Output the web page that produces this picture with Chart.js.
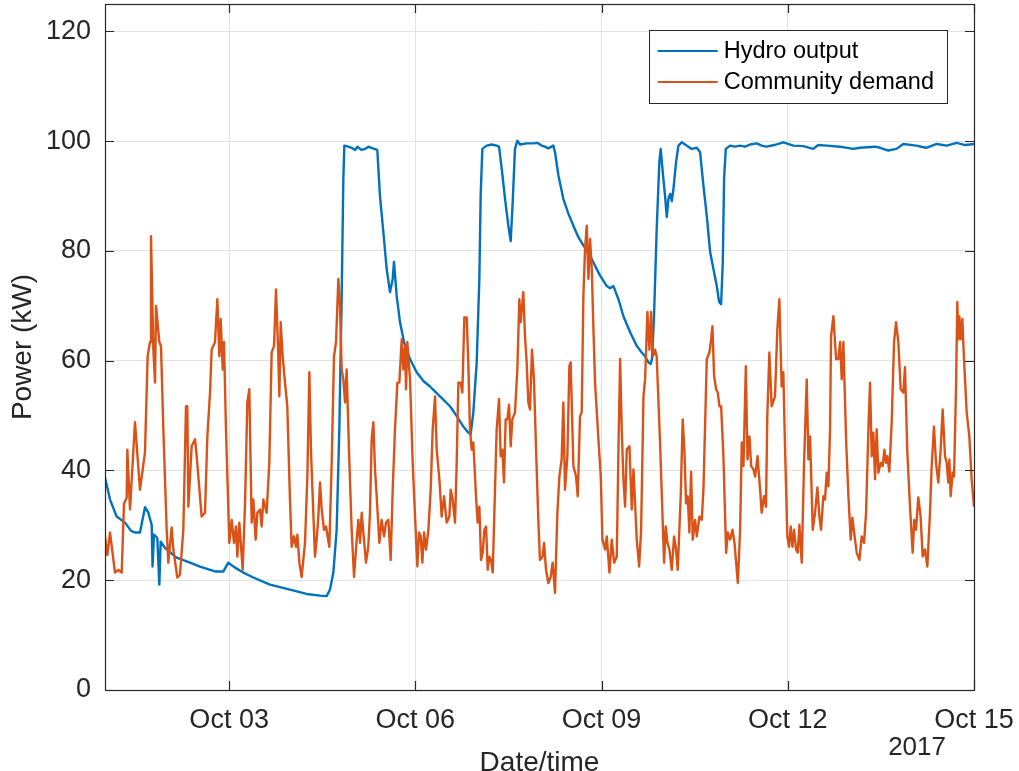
<!DOCTYPE html>
<html>
<head>
<meta charset="utf-8">
<script src="https://cdn.jsdelivr.net/npm/chart.js@4.4.1/dist/chart.umd.min.js"></script>
<style>
  html, body { margin: 0; padding: 0; background: #fff; }
</style>
</head>
<body>
<canvas id="chart" width="1019" height="771"></canvas>
<script>
// days since Oct 01 00:00, 2017
const xTickDays = [2, 5, 8, 11, 14];
const xTickLabels = ["Oct 03", "Oct 06", "Oct 09", "Oct 12", "Oct 15"];
const yTicks = [0, 20, 40, 60, 80, 100, 120];

const hydroDays = [0.000, 0.081, 0.188, 0.322, 0.420, 0.483, 0.564, 0.644, 0.698, 0.752, 0.766, 0.789, 0.843, 0.875, 0.897, 0.967,
  1.154, 1.369, 1.530, 1.772, 1.907, 1.987, 2.094, 2.228, 2.390, 2.658, 2.980, 3.249, 3.464, 3.571, 3.625, 3.679, 3.732, 3.775,
  3.813, 3.840, 3.856, 3.920, 3.974, 4.028, 4.066, 4.134, 4.188, 4.242, 4.312, 4.387, 4.430, 4.484, 4.538, 4.592, 4.635, 4.656,
  4.699, 4.753, 4.817, 4.914, 5.021, 5.129, 5.236, 5.397, 5.558, 5.666, 5.773, 5.853, 5.891, 5.934, 5.988, 6.031, 6.052, 6.079,
  6.149, 6.230, 6.310, 6.348, 6.391, 6.445, 6.498, 6.536, 6.568, 6.605, 6.643, 6.686, 6.793, 6.901, 6.965, 7.034, 7.089, 7.142,
  7.223, 7.250, 7.304, 7.384, 7.465, 7.546, 7.626, 7.707, 7.815, 7.895, 7.976, 8.084, 8.137, 8.191, 8.272, 8.352, 8.460, 8.567,
  8.647, 8.701, 8.755, 8.790, 8.812, 8.845, 8.888, 8.931, 8.953, 8.985, 9.023, 9.050, 9.077, 9.104, 9.131, 9.158, 9.200, 9.238,
  9.292, 9.345, 9.399, 9.453, 9.534, 9.587, 9.641, 9.695, 9.749, 9.802, 9.856, 9.894, 9.926, 9.953, 9.974, 10.001, 10.071, 10.151,
  10.232, 10.312, 10.393, 10.500, 10.581, 10.660, 10.780, 10.930, 11.090, 11.250, 11.410, 11.490, 11.630, 11.840, 12.050, 12.160,
  12.400, 12.490, 12.620, 12.750, 12.860, 13.070, 13.230, 13.400, 13.560, 13.720, 13.860, 14.000];
const hydroKW = [38.7, 34.7, 31.6, 30.5, 29.0, 28.7, 28.7, 33.3, 32.3, 30.1, 22.5, 28.3, 27.7, 19.2, 27.0, 25.9,
  24.1, 23.2, 22.5, 21.6, 21.6, 23.2, 22.3, 21.4, 20.5, 19.2, 18.3, 17.5, 17.2, 17.1, 18.3, 21.4, 29.2, 47.5,
  71.8, 93.2, 99.2, 99.0, 98.8, 98.4, 99.0, 98.4, 98.6, 99.0, 98.7, 98.4, 90.0, 83.5, 76.7, 72.5, 74.9, 78.0,
  71.8, 67.0, 63.4, 60.3, 57.9, 56.3, 55.3, 53.5, 51.7, 49.9, 48.0, 46.9, 46.6, 50.6, 59.7, 74.9, 90.0, 98.6,
  99.2, 99.4, 99.2, 99.0, 95.0, 89.5, 84.6, 81.8, 88.9, 98.6, 100.1, 99.4, 99.6, 99.6, 99.7, 99.2, 99.0, 98.7,
  99.2, 98.0, 93.8, 89.5, 86.8, 84.6, 82.5, 81.0, 79.1, 77.3, 75.5, 73.6, 73.2, 73.6, 71.2, 68.1, 65.2, 62.7,
  61.5, 60.8, 59.7, 59.4, 60.3, 68.1, 84.0, 96.2, 98.6, 94.4, 90.0, 86.2, 89.5, 90.4, 89.1, 91.3, 96.2, 99.2,
  99.8, 99.4, 99.0, 98.6, 98.8, 98.0, 91.9, 86.4, 79.8, 76.7, 73.6, 70.7, 70.3, 78.0, 93.2, 98.6, 99.2, 99.0,
  99.2, 99.0, 99.4, 99.6, 99.2, 99.0, 99.3, 99.8, 99.2, 99.1, 98.6, 99.3, 99.2, 99.0, 98.6, 98.8,
  99.0, 98.8, 98.3, 98.6, 99.5, 99.2, 98.8, 99.5, 99.2, 99.7, 99.3, 99.5];

const demandDays = [0.000, 0.038, 0.081, 0.161, 0.215, 0.269, 0.306, 0.349, 0.360, 0.403, 0.483, 0.564, 0.644, 0.687, 0.725,
  0.741, 0.779, 0.806, 0.822, 0.875, 0.902, 0.940, 0.994, 1.020, 1.074, 1.101, 1.165, 1.208, 1.262, 1.305, 1.326, 1.343, 1.396,
  1.450, 1.477, 1.557, 1.611, 1.649, 1.692, 1.718, 1.772, 1.810, 1.842, 1.864, 1.896, 1.917, 1.949, 2.003, 2.041, 2.078, 2.110,
  2.132, 2.164, 2.218, 2.256, 2.293, 2.325, 2.363, 2.390, 2.427, 2.454, 2.497, 2.524, 2.551, 2.604, 2.647, 2.685, 2.723, 2.755,
  2.792, 2.809, 2.830, 2.862, 2.900, 2.937, 2.980, 3.007, 3.045, 3.077, 3.099, 3.131, 3.168, 3.222, 3.260, 3.292, 3.319, 3.383,
  3.410, 3.437, 3.464, 3.491, 3.528, 3.561, 3.614, 3.652, 3.689, 3.722, 3.759, 3.786, 3.813, 3.840, 3.867, 3.893, 3.937, 3.974,
  4.012, 4.055, 4.082, 4.109, 4.136, 4.162, 4.205, 4.242, 4.269, 4.296, 4.323, 4.350, 4.377, 4.420, 4.457, 4.495, 4.527, 4.565,
  4.602, 4.635, 4.672, 4.710, 4.742, 4.780, 4.807, 4.834, 4.850, 4.871, 4.914, 4.957, 4.995, 5.032, 5.059, 5.086, 5.113, 5.140,
  5.172, 5.210, 5.247, 5.279, 5.317, 5.344, 5.387, 5.424, 5.462, 5.505, 5.548, 5.569, 5.601, 5.639, 5.666, 5.693, 5.730, 5.757,
  5.789, 5.827, 5.853, 5.880, 5.907, 5.934, 5.977, 6.004, 6.031, 6.058, 6.085, 6.112, 6.139, 6.165, 6.192, 6.219, 6.246, 6.283,
  6.310, 6.348, 6.374, 6.401, 6.428, 6.455, 6.482, 6.509, 6.536, 6.562, 6.605, 6.643, 6.675, 6.696, 6.739, 6.766, 6.793, 6.820,
  6.847, 6.879, 6.911, 6.943, 6.981, 7.007, 7.050, 7.073, 7.105, 7.142, 7.180, 7.212, 7.250, 7.288, 7.320, 7.357, 7.384, 7.411,
  7.449, 7.481, 7.502, 7.546, 7.589, 7.616, 7.653, 7.680, 7.707, 7.734, 7.761, 7.788, 7.815, 7.842, 7.869, 7.895, 7.949, 7.987,
  8.014, 8.057, 8.084, 8.127, 8.164, 8.202, 8.245, 8.272, 8.299, 8.325, 8.352, 8.379, 8.406, 8.449, 8.487, 8.514, 8.567, 8.605,
  8.637, 8.675, 8.701, 8.739, 8.771, 8.798, 8.825, 8.861, 8.888, 8.942, 9.007, 9.034, 9.061, 9.093, 9.131, 9.168, 9.200, 9.227,
  9.275, 9.307, 9.334, 9.361, 9.388, 9.415, 9.442, 9.469, 9.507, 9.534, 9.577, 9.614, 9.641, 9.695, 9.738, 9.765, 9.786, 9.813,
  9.846, 9.872, 9.899, 9.926, 9.963, 10.007, 10.033, 10.071, 10.109, 10.141, 10.168, 10.195, 10.232, 10.259, 10.286, 10.324,
  10.351, 10.383, 10.410, 10.447, 10.474, 10.512, 10.554, 10.579, 10.617, 10.649, 10.670, 10.703, 10.740, 10.794, 10.832,
  10.864, 10.901, 10.928, 10.955, 10.993, 11.020, 11.047, 11.074, 11.101, 11.133, 11.160, 11.187, 11.225, 11.262, 11.305,
  11.332, 11.359, 11.402, 11.439, 11.477, 11.509, 11.536, 11.573, 11.600, 11.627, 11.654, 11.681, 11.697, 11.735, 11.778,
  11.815, 11.842, 11.869, 11.896, 11.939, 11.977, 12.014, 12.041, 12.073, 12.111, 12.154, 12.191, 12.229, 12.261, 12.299,
  12.325, 12.352, 12.378, 12.406, 12.432, 12.459, 12.497, 12.529, 12.556, 12.583, 12.604, 12.636, 12.674, 12.712, 12.744,
  12.781, 12.819, 12.862, 12.888, 12.926, 12.969, 13.012, 13.038, 13.065, 13.103, 13.140, 13.173, 13.210, 13.248, 13.291,
  13.318, 13.355, 13.388, 13.425, 13.463, 13.495, 13.533, 13.560, 13.586, 13.603, 13.624, 13.656, 13.678, 13.710, 13.731,
  13.747, 13.764, 13.785, 13.812, 13.839, 13.882, 13.925, 13.962, 14.000];
const demandKW = [28.0, 24.6, 28.7, 21.4, 21.9, 21.4, 34.0, 35.0, 43.8, 32.9, 48.8, 36.5, 43.3, 60.8, 63.4,
  82.7, 62.0, 56.0, 70.0, 63.4, 62.7, 47.5, 29.2, 23.2, 29.6, 25.6, 20.5, 21.0, 29.2, 51.7, 51.7, 33.4, 44.4,
  45.7, 42.6, 31.6, 32.3, 46.2, 54.2, 62.0, 63.4, 71.2, 60.8, 67.6, 58.4, 63.4, 47.5, 26.8, 31.0, 26.8, 29.8,
  24.3, 30.5, 21.9, 34.0, 52.4, 54.8, 30.5, 34.7, 27.4, 32.3, 32.9, 29.8, 34.7, 32.3, 41.4, 61.5, 62.7, 73.0,
  60.8, 53.5, 67.0, 60.8, 56.0, 51.7, 34.7, 26.1, 28.0, 26.1, 28.3, 23.2, 20.6, 26.8, 38.9, 57.9, 43.3, 24.3,
  27.4, 31.6, 37.8, 32.9, 29.2, 29.8, 26.1, 41.4, 60.8, 63.4, 74.9, 70.0, 58.4, 56.6, 52.4, 58.4, 41.4, 29.2,
  20.6, 27.4, 31.0, 26.8, 32.3, 28.7, 23.2, 26.1, 32.3, 45.7, 48.8, 40.2, 35.3, 26.8, 31.0, 28.0, 30.5, 31.0,
  23.7, 36.5, 47.5, 56.0, 56.0, 63.9, 58.4, 62.7, 54.8, 63.4, 56.6, 41.4, 31.6, 22.5, 28.7, 28.0, 23.2, 28.7,
  25.6, 29.2, 36.5, 47.5, 53.5, 43.8, 38.4, 31.6, 35.3, 30.5, 31.6, 36.5, 34.7, 30.5, 41.4, 56.0, 56.0, 54.2,
  67.9, 67.9, 59.7, 47.5, 43.8, 45.1, 35.3, 30.5, 33.4, 23.7, 25.0, 29.2, 29.8, 21.9, 24.3, 23.7, 21.4, 36.5,
  47.5, 53.0, 42.6, 43.8, 37.8, 49.3, 49.3, 52.0, 44.4, 49.3, 50.6, 58.4, 71.2, 67.0, 72.5, 64.5, 59.7, 52.4,
  51.1, 62.0, 56.6, 44.4, 31.0, 23.7, 24.3, 26.8, 21.9, 19.5, 20.6, 23.2, 17.7, 32.3, 38.9, 42.0, 52.4, 36.5,
  42.6, 59.0, 59.7, 40.8, 38.9, 35.3, 49.9, 50.6, 71.8, 80.4, 84.6, 74.9, 82.2, 76.7, 65.8, 56.0, 45.7, 38.9,
  27.4, 25.6, 28.0, 21.4, 27.4, 23.2, 24.3, 43.8, 60.3, 47.5, 38.4, 33.4, 43.8, 44.4, 32.9, 40.2, 27.4, 22.5,
  29.2, 53.5, 56.6, 68.9, 62.0, 68.9, 60.8, 62.0, 60.8, 45.1, 23.2, 29.8, 26.8, 25.6, 21.9, 28.0, 25.6, 21.9,
  35.3, 49.3, 43.8, 34.0, 35.3, 28.7, 39.8, 27.4, 31.0, 28.0, 31.6, 31.0, 36.5, 60.3, 61.5, 63.9, 66.3, 57.2,
  54.8, 54.2, 51.7, 51.7, 42.6, 25.0, 28.7, 27.4, 29.2, 26.8, 23.2, 19.5, 29.2, 45.1, 40.8, 59.0,
  42.0, 46.2, 40.8, 40.2, 38.9, 42.6, 36.5, 32.3, 35.3, 33.4, 49.9, 61.5, 51.7, 53.5, 65.8,
  71.2, 55.3, 57.9, 44.4, 28.0, 26.1, 29.8, 26.1, 29.2, 25.6, 25.0, 30.1, 23.2, 41.4, 56.6,
  42.0, 46.2, 29.2, 32.3, 36.9, 31.6, 29.2, 35.3, 34.7, 39.6, 37.1, 47.5, 64.5, 68.1, 60.3,
  60.3, 63.4, 56.6, 63.4, 45.7, 35.3, 27.4, 31.4, 28.3, 25.0, 23.7, 28.0, 26.8, 32.3, 47.5,
  56.0, 42.6, 46.9, 38.4, 47.5, 39.6, 41.4, 40.8, 43.8, 41.4, 42.6, 39.8, 48.8, 63.4, 67.0,
  63.4, 54.8, 54.2, 58.8, 43.3, 33.4, 25.0, 31.0, 29.2, 35.1, 31.6, 24.3, 25.6, 22.5, 32.3,
  40.8, 48.0, 41.4, 37.8, 43.8, 51.1, 42.6, 41.4, 37.8, 42.0, 35.3, 39.6, 38.9, 54.8, 70.7,
  63.9, 68.1, 63.9, 67.6, 60.3, 50.6, 46.2, 38.4, 33.4];

const seriesNames = ["Hydro output", "Community demand"];
const seriesColors = ["#0072BD", "#D95319"];

const FONT = "'Liberation Sans', Arial, Helvetica, sans-serif";
const AXIS = "#262626";

const toPoints = (xs, ys) => xs.map((x, i) => ({ x: x, y: ys[i] }));

// MATLAB style box, inward ticks, legend and year label
const matlabFrame = {
    id: "matlabFrame",
    afterDatasetsDraw(chart) {
        const { ctx, chartArea: a, scales } = chart;
        const tl = 9;
        ctx.save();
        ctx.strokeStyle = AXIS; ctx.lineWidth = 1.2;
        ctx.strokeRect(a.left + 0.5, a.top + 0.5, a.right - a.left, a.bottom - a.top);
        ctx.beginPath();
        xTickDays.forEach(v => {
            const px = Math.round(scales.x.getPixelForValue(v)) + 0.5;
            ctx.moveTo(px, a.bottom); ctx.lineTo(px, a.bottom - tl);
            ctx.moveTo(px, a.top); ctx.lineTo(px, a.top + tl);
        });
        yTicks.forEach(v => {
            const py = Math.round(scales.y.getPixelForValue(v)) + 0.5;
            ctx.moveTo(a.left, py); ctx.lineTo(a.left + tl, py);
            ctx.moveTo(a.right, py); ctx.lineTo(a.right - tl, py);
        });
        ctx.stroke();
        ctx.restore();
    },
    afterDraw(chart) {
        const { ctx, chartArea: a } = chart;
        ctx.save();
        ctx.font = "23.5px " + FONT;
        const textW = Math.max(...seriesNames.map(s => ctx.measureText(s).width));
        const w = 75 + textW + 13, h = 73;
        const x0 = a.right - 27 - w, y0 = a.top + 26;
        ctx.fillStyle = "#fff";
        ctx.fillRect(x0, y0, w, h);
        ctx.strokeStyle = AXIS; ctx.lineWidth = 1;
        ctx.strokeRect(Math.round(x0) + 0.5, Math.round(y0) + 0.5, Math.round(w), h);
        seriesNames.forEach((name, i) => {
            const ry = y0 + 21 + i * 31;
            ctx.strokeStyle = seriesColors[i]; ctx.lineWidth = 2.2;
            ctx.beginPath(); ctx.moveTo(x0 + 9, ry); ctx.lineTo(x0 + 69, ry); ctx.stroke();
            ctx.fillStyle = "#000"; ctx.textAlign = "left"; ctx.textBaseline = "middle";
            ctx.fillText(name, x0 + 75, ry + 1);
        });
        ctx.font = "26px " + FONT;
        ctx.fillStyle = AXIS; ctx.textAlign = "right"; ctx.textBaseline = "alphabetic";
        ctx.fillText("2017", a.right - 28, 755);
        ctx.restore();
    }
};

new Chart(document.getElementById("chart"), {
    type: "line",
    data: {
        datasets: [
            { label: seriesNames[0], data: toPoints(hydroDays, hydroKW), borderColor: seriesColors[0], order: 1 },
            { label: seriesNames[1], data: toPoints(demandDays, demandKW), borderColor: seriesColors[1], order: 0 }
        ]
    },
    options: {
        responsive: false,
        animation: false,
        devicePixelRatio: 1,
        elements: { point: { radius: 0 }, line: { borderWidth: 2.4, tension: 0, borderJoinStyle: "round" } },
        layout: { padding: { left: 0, right: 45, top: 4, bottom: 0 } },
        plugins: { legend: { display: false }, tooltip: { enabled: false } },
        scales: {
            x: {
                type: "linear", min: 0, max: 14,
                afterBuildTicks: s => { s.ticks = xTickDays.map(v => ({ value: v })); },
                afterFit: s => { s.height = 81; s.paddingLeft = 0; s.paddingRight = 0; },
                ticks: { autoSkip: false, maxRotation: 0, padding: 14, color: AXIS,
                         font: { family: FONT, size: 27 }, callback: (v, i) => xTickLabels[i] },
                grid: { color: "#e2e2e2", drawTicks: false },
                border: { display: false },
                title: { display: true, text: "Date/time", color: AXIS, padding: 0,
                         font: { family: FONT, size: 28, lineHeight: 0.55 } }
            },
            y: {
                type: "linear", min: 0, max: 125,
                afterBuildTicks: s => { s.ticks = yTicks.map(v => ({ value: v })); },
                afterFit: s => { s.width = 105; s.paddingTop = 0; s.paddingBottom = 0; },
                ticks: { padding: 14, color: AXIS, font: { family: FONT, size: 27 } },
                grid: { color: "#e2e2e2", drawTicks: false },
                border: { display: false },
                title: { display: true, text: "Power (kW)", color: AXIS, padding: { top: 6, bottom: 0 },
                         font: { family: FONT, size: 28 } }
            }
        }
    },
    plugins: [matlabFrame]
});
</script>
</body>
</html>
